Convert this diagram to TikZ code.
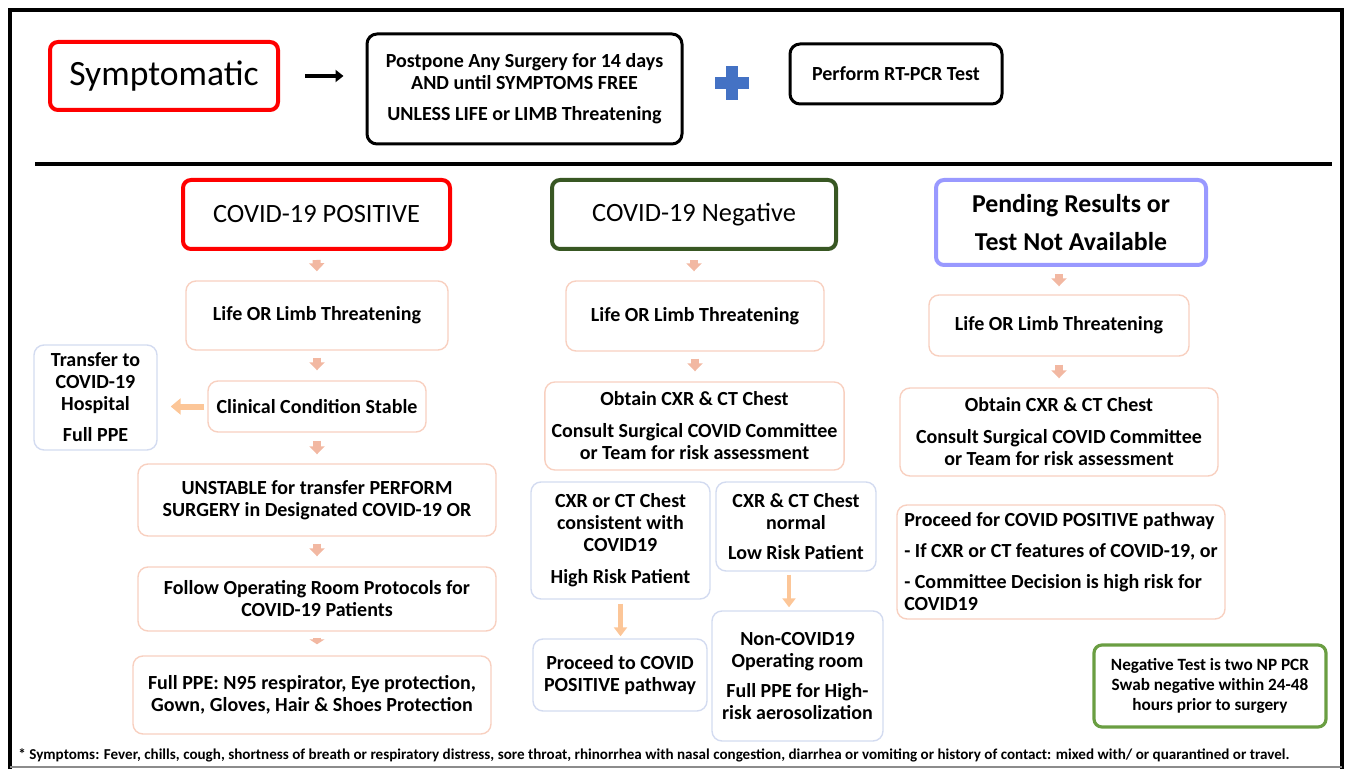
\documentclass[tikz,border=0pt]{standalone}
\usepackage{fontspec}
\setmainfont{Carlito}
\usetikzlibrary{calc,positioning,arrows.meta}

\definecolor{symred}{HTML}{FF0000}
\definecolor{neggreen}{HTML}{385723}
\definecolor{pendblue}{HTML}{9999FF}
\definecolor{notegreen}{HTML}{6A9E42}
\definecolor{boxpeach}{HTML}{F8D0C0}
\definecolor{boxblue}{HTML}{D3DBF0}
\definecolor{arrowpeach}{HTML}{F2B8A2}
\definecolor{arroworange}{HTML}{FCC698}
\definecolor{plusblue}{HTML}{4472C4}

\tikzset{
  head_box/.style={draw,rectangle,rounded corners=4pt,line width=2pt,align=center},
  plain_box/.style={draw,rectangle,rounded corners=5pt,line width=1.5pt,align=center,
    font=\bfseries\fontsize{10}{11}\selectfont},
  peach_box/.style={draw=boxpeach,rectangle,rounded corners=5pt,line width=0.7pt,align=center,
    font=\bfseries\fontsize{10}{11}\selectfont},
  blue_box/.style={peach_box,draw=boxblue},
  down_arrow/.style={draw=arrowpeach,line width=4pt,-{Triangle[width=7.5pt,length=4pt]}},
  long_arrow/.style={draw=arroworange,line width=2.2pt,-{Triangle[width=6.5pt,length=4.5pt]}},
}

\begin{document}
\begin{tikzpicture}[x=0.5pt,y=-0.5pt]

  \useasboundingbox (0,0) rectangle (1350,770);

  % frame
  \draw[line width=2pt] (10,769) -- (10,10) -- (1342,10) -- (1342,769);
  \draw[black!45,line width=0.6pt] (10,767) -- (1342,767);

  % top row
  \node [head_box,draw=symred,minimum width=114pt,minimum height=34pt,font=\fontsize{17.8}{20}\selectfont] at(164,76) (sympt_box) {Symptomatic};

  \node [plain_box,minimum width=157.5pt,minimum height=55pt] at(524.5,89) (postpone_box)
    {Postpone Any Surgery for 14 days\\AND until SYMPTOMS FREE\\[4.5pt]UNLESS LIFE or LIMB Threatening};

  \node [plain_box,minimum width=106pt,minimum height=30pt] at(896,74) (rtpcr_box) {Perform RT-PCR Test};

  \draw[line width=2pt,-{Triangle[width=6pt,length=4pt]},shorten <=12.5pt,shorten >=11pt]
    (sympt_box.east) -- (sympt_box.east -| postpone_box.west);

  \fill[plusblue] (715,77) rectangle (749,89);
  \fill[plusblue] (726,66) rectangle (738,100);

  \draw[line width=2pt] (35,164) -- (1332,164);

  % COVID-19 positive
  \node [head_box,draw=symred,minimum width=133.5pt,minimum height=34.5pt,font=\fontsize{13.2}{15}\selectfont] at(316.5,214.5) (pos_head) {COVID-19 POSITIVE};
  \node [peach_box,minimum width=131pt,minimum height=34.5pt] at(317,315.5) (pos_life) {Life OR Limb Threatening};
  \node [peach_box,minimum width=109pt,minimum height=25.5pt] at(317,406.5) (pos_stable) {Clinical Condition Stable};
  \node [blue_box,minimum width=61.5pt,minimum height=52.5pt] at(95.5,397.5) (pos_transfer)
    {Transfer to\\COVID-19\\Hospital\\[4.5pt]Full PPE};
  \node [peach_box,minimum width=179pt,minimum height=36pt] at(317,500) (pos_unstable)
    {UNSTABLE for transfer PERFORM\\SURGERY in Designated COVID-19 OR};
  \node [peach_box,minimum width=179pt,minimum height=32pt] at(317,599) (pos_follow)
    {Follow Operating Room Protocols for\\COVID-19 Patients};
  \node [peach_box,minimum width=179pt,minimum height=39pt] at(312,695) (pos_ppe)
    {Full PPE: N95 respirator, Eye protection,\\Gown, Gloves, Hair \& Shoes Protection};

  \draw[down_arrow,shorten <=4.5pt,shorten >=4.5pt] (pos_head.south) -- (pos_life.north);
  \draw[down_arrow,shorten <=3.5pt,shorten >=5pt] (pos_life.south) -- (pos_stable.north);
  \draw[down_arrow,shorten <=4pt,shorten >=4.5pt] (pos_stable.south) -- (pos_unstable.north);
  \draw[down_arrow,shorten <=3.5pt,shorten >=5pt] (pos_unstable.south) -- (pos_follow.south |- pos_follow.north);
  \draw[down_arrow,shorten <=3pt,shorten >=5.5pt,-{Triangle[width=7.5pt,length=2.5pt]}] (pos_follow.south) -- (pos_follow.south |- pos_ppe.north);
  \draw[draw=arroworange,line width=3pt,-{Triangle[width=8pt,length=5pt]},shorten <=1.5pt,shorten >=6.5pt]
    (pos_stable.west) -- (pos_stable.west -| pos_transfer.east);

  % COVID-19 negative
  \node [head_box,draw=neggreen,minimum width=142pt,minimum height=34.5pt,font=\fontsize{13.2}{15}\selectfont] at(694,214.5) (neg_head) {COVID-19 Negative};
  \node [peach_box,minimum width=129pt,minimum height=35pt] at(695,316) (neg_life) {Life OR Limb Threatening};
  \node [peach_box,minimum width=148.5pt,minimum height=44pt] at(694.5,426) (neg_obtain)
    {Obtain CXR \& CT Chest\\[5pt]Consult Surgical COVID Committee\\or Team for risk assessment};
  \node [blue_box,minimum width=89.5pt,minimum height=58.5pt] at(620.5,540.5) (neg_high)
    {CXR or CT Chest\\consistent with\\COVID19\\[5pt]High Risk Patient};
  \node [blue_box,minimum width=80pt,minimum height=44.5pt] at(796,526.5) (neg_low)
    {CXR \& CT Chest\\normal\\[4pt]Low Risk Patient};
  \node [blue_box,minimum width=87pt,minimum height=36pt] at(620,675) (neg_proceed)
    {Proceed to COVID\\POSITIVE pathway};
  \node [blue_box,minimum width=85.5pt,minimum height=65pt] at(797.5,676) (neg_nonop)
    {Non-COVID19\\Operating room\\[4pt]Full PPE for High-\\risk aerosolization};

  \draw[down_arrow,shorten <=4.5pt,shorten >=4.5pt] (neg_head.south) -- (neg_head.south |- neg_life.north);
  \draw[down_arrow,shorten <=3.5pt,shorten >=5pt] (neg_life.south) -- (neg_life.south |- neg_obtain.north);
  \draw[long_arrow,shorten <=2pt,shorten >=1pt] (neg_high.south) -- (neg_high.south |- neg_proceed.north);
  \draw[long_arrow,shorten <=1.5pt,shorten >=1.5pt] ($(neg_low.south)+(-7,0)$) -- ($(neg_low.south |- neg_nonop.north)+(-7,0)$);

  % pending results
  \node [head_box,draw=pendblue,minimum width=135pt,minimum height=42.5pt,font=\bfseries\fontsize{12.9}{14}\selectfont] at(1071,222.5) (pend_head)
    {Pending Results or\\[5pt]Test Not Available};
  \node [peach_box,minimum width=130pt,minimum height=30.5pt] at(1059,325.5) (pend_life) {Life OR Limb Threatening};
  \node [peach_box,minimum width=159pt,minimum height=44pt] at(1059,432) (pend_obtain)
    {Obtain CXR \& CT Chest\\[5pt]Consult Surgical COVID Committee\\or Team for risk assessment};
  \node [peach_box,align=left,minimum width=164pt,minimum height=57pt] at(1061,562) (pend_proceed)
    {Proceed for COVID POSITIVE pathway\\[4.5pt]- If CXR or CT features of COVID-19, or\\[4.5pt]- Committee Decision is high risk for\\COVID19};

  \draw[down_arrow,shorten <=3.5pt,shorten >=4pt] (pend_life.north |- pend_head.south) -- (pend_life.north);
  \draw[down_arrow,shorten <=4pt,shorten >=4.5pt] (pend_life.south) -- (pend_obtain.north);

  \node [head_box,draw=notegreen,line width=1.6pt,minimum width=116pt,minimum height=41pt,font=\bfseries\fontsize{8.6}{9.8}\selectfont] at(1210,686) (neg_note)
    {Negative Test is two NP PCR\\Swab negative within 24-48\\hours prior to surgery};

  % footnote
  \node [anchor=west,inner sep=0pt,font=\bfseries\fontsize{7.55}{9}\selectfont] at(18,755) (foot_note)
    {* Symptoms: Fever, chills, cough, shortness of breath or respiratory distress, sore throat, rhinorrhea with nasal congestion, diarrhea or vomiting or history of contact: mixed with/ or quarantined or travel.};

\end{tikzpicture}
\end{document}
